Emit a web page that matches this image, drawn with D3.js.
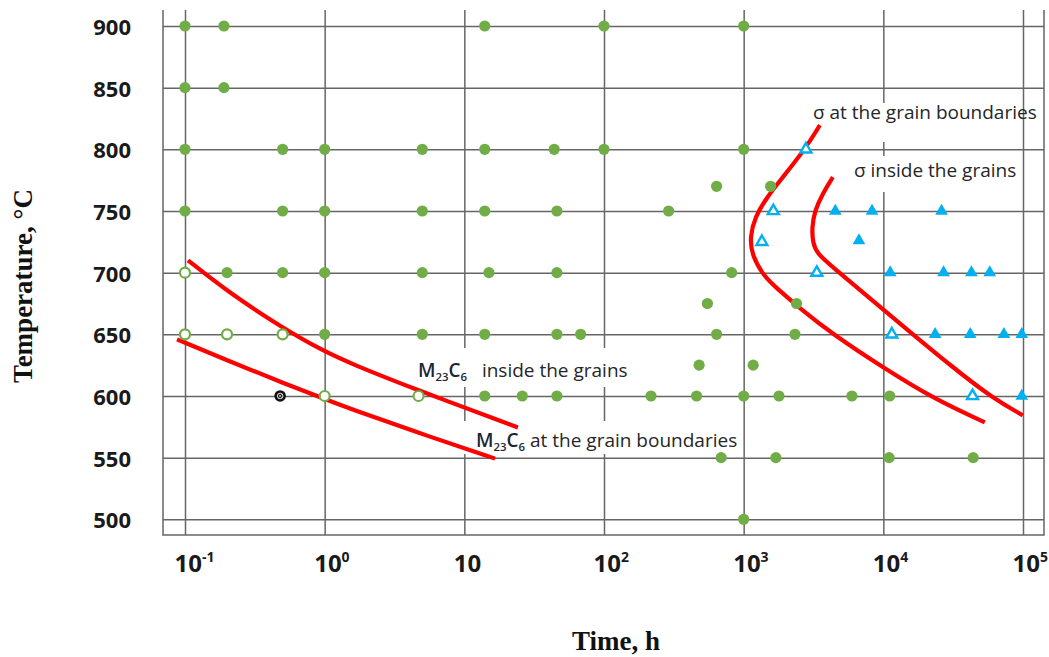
<!DOCTYPE html>
<html>
<head>
<meta charset="utf-8">
<script src="https://cdn.jsdelivr.net/npm/d3@7/dist/d3.min.js"></script>
<style>
  html, body { margin: 0; padding: 0; background: #fff; }
  svg { display: block; }
</style>
</head>
<body>
<svg id="chart" width="1049" height="657"></svg>
<script>
// ---------------- DATA ----------------
const xTickValues = [0.1, 1, 10, 100, 1000, 10000, 100000];
const xTickExps   = ["-1", "0", "", "2", "3", "4", "5"];
const yTickValues = [500, 550, 600, 650, 700, 750, 800, 850, 900];

// [time h, temperature °C]
const greenFilled = [
  [0.1,900],[0.19,900],[14,900],[100,900],[1000,900],
  [0.1,850],[0.19,850],
  [0.1,800],[0.5,800],[1,800],[5,800],[14,800],[44,800],[100,800],[1000,800],
  [640,770],[1560,770],
  [0.1,750],[0.5,750],[1,750],[5,750],[14,750],[46,750],[290,750],
  [0.2,700],[0.5,700],[1,700],[5,700],[15,700],[46,700],[820,700],
  [550,675],[2390,675],
  [1,650],[5,650],[14,650],[46,650],[68,650],[640,650],[2330,650],
  [480,625],[1170,625],
  [14,600],[26,600],[46,600],[217,600],[460,600],[1000,600],[1790,600],[5960,600],[11100,600],
  [690,550],[1700,550],[11000,550],[44000,550],
  [1000,500]
];
const greenOpen = [[0.1,700],[0.1,650],[0.2,650],[0.5,650],[1,600],[4.7,600]];
const blackMarked = [[0.48,600]];
const blueOpen = [[2790,800],[1630,750],[1350,725],[3340,700],[11500,650],[43500,600]];
const blueFilled = [
  [4530,750],[8300,750],[26100,750],[6690,726],
  [11200,700],[27000,700],[42700,700],[57800,700],
  [23500,650],[41900,650],[73000,650],[98000,650],
  [98000,600]
];

const curveM23Inside = [[0.105,710],[0.2,684.9],[0.503,654.9],[0.99,636.2],[1.52,626.5],[4.66,604.5],[24.2,574.5]];
const curveM23Boundary = [[0.0877,645.9],[0.221,626.9],[0.503,610.6],[0.989,597.7],[1.52,589.6],[4.58,570.5],[16.6,549.2]];
const curveSigmaBoundary = [[3512,819.6],[2786,801],[1909,777.4],[1466,761.2],[1203,745],[1108,728.7],[1145,714.1],
  [1395,697.1],[1729,687.3],[2525,671.1],[4350,650],[9918,623.2],[22620,598.1],[53270,578.6]];
const curveSigmaInside = [[4350,777.4],[3689,764.4],[3234,750.6],[3077,736.8],[3129,723.9],[3342,715.7],[4350,704.4],
  [8007,679.2],[16260,650],[31450,623.2],[60800,598.1],[99700,584.3]];

// ---------------- LAYOUT ----------------
const svg = d3.select("#chart");
const frame = { left: 163, right: 1044, top: 10, bottom: 535 };
const x = d3.scaleLog().domain([0.1, 100000]).range([185, 1023]);
const y = d3.scaleLinear().domain([500, 900]).range([519.3, 26]);

const gridColor = "#666666";

// Gridlines via axes
const gx = svg.append("g")
  .attr("transform", `translate(0,${frame.bottom})`)
  .call(d3.axisBottom(x).tickValues(xTickValues).tickSize(-(frame.bottom - frame.top)).tickFormat(""));
gx.select(".domain").remove();
gx.selectAll("line").attr("stroke", gridColor).attr("stroke-width", 1.5);

const gy = svg.append("g")
  .attr("transform", `translate(${frame.left},0)`)
  .call(d3.axisLeft(y).tickValues(yTickValues).tickSize(-(frame.right - frame.left)).tickFormat(""));
gy.select(".domain").remove();
gy.selectAll("line").attr("stroke", gridColor).attr("stroke-width", 1.5);

// Frame (left, bottom, right)
svg.append("path")
  .attr("d", `M${frame.left},${frame.top}V${frame.bottom}H${frame.right}V${frame.top}`)
  .attr("fill", "none").attr("stroke", gridColor).attr("stroke-width", 1.5);

// White label boxes (hide grid behind annotation text)
const boxes = [
  [811, 103, 1016, 142],
  [851, 156, 1016, 192],
  [413, 348, 645, 387],
  [463, 421, 740, 454]
];
svg.append("g").selectAll("rect").data(boxes).join("rect")
  .attr("x", d => d[0]).attr("y", d => d[1])
  .attr("width", d => d[2] - d[0]).attr("height", d => d[3] - d[1])
  .attr("fill", "#fff");

// Axis tick labels
const yl = svg.append("g")
  .attr("transform", `translate(${frame.left},0)`)
  .call(d3.axisLeft(y).tickValues(yTickValues).tickSize(0).tickPadding(32));
yl.select(".domain").remove();
yl.selectAll("text")
  .attr("font-family", "'Open Sans', sans-serif")
  .attr("font-weight", "bold").attr("font-size", 22).attr("fill", "#1a1a1a")
  .attr("dy", "0.38em");

const xl = svg.append("g")
  .attr("transform", `translate(0,${frame.bottom})`)
  .call(d3.axisBottom(x).tickValues(xTickValues).tickSize(0).tickPadding(20).tickFormat(""));
xl.select(".domain").remove();
xl.selectAll("text").each(function(d, i) {
  const t = d3.select(this)
    .attr("text-anchor", "start").attr("x", -11)
    .attr("font-family", "'Open Sans', sans-serif")
    .attr("font-weight", "bold").attr("font-size", 24).attr("fill", "#1a1a1a");
  t.text(null);
  t.append("tspan").text("10");
  if (xTickExps[i]) t.append("tspan").attr("font-size", 14).attr("dy", -10).text(xTickExps[i]);
});

// Axis titles
svg.append("text")
  .attr("x", 616).attr("y", 650).attr("text-anchor", "middle")
  .attr("font-family", "'Liberation Serif', 'Times New Roman', serif")
  .attr("font-weight", "bold").attr("font-size", 27).attr("fill", "#111")
  .text("Time, h");
svg.append("text")
  .attr("transform", "translate(32,286) rotate(-90)").attr("text-anchor", "middle")
  .attr("font-family", "'Liberation Serif', 'Times New Roman', serif")
  .attr("font-weight", "bold").attr("font-size", 27).attr("fill", "#111")
  .text("Temperature, °C");

// Curves
const lineGen = d3.line().x(d => x(d[0])).y(d => y(d[1])).curve(d3.curveBasis);
[curveM23Inside, curveM23Boundary, curveSigmaBoundary, curveSigmaInside].forEach(c => {
  svg.append("path").attr("d", lineGen(c))
    .attr("fill", "none").attr("stroke", "#ff0000").attr("stroke-width", 4.2)
    .attr("stroke-linecap", "butt");
});

// Markers
const green = "#70ad47", blue = "#00b0f0";
svg.append("g").selectAll("circle").data(greenFilled).join("circle")
  .attr("cx", d => x(d[0])).attr("cy", d => y(d[1])).attr("r", 5.6).attr("fill", green);
svg.append("g").selectAll("circle").data(greenOpen).join("circle")
  .attr("cx", d => x(d[0])).attr("cy", d => y(d[1])).attr("r", 5).attr("fill", "#fff")
  .attr("stroke", green).attr("stroke-width", 2.2);
const bm = svg.append("g").selectAll("g").data(blackMarked).join("g")
  .attr("transform", d => `translate(${x(d[0])},${y(d[1])})`);
bm.append("circle").attr("r", 5.8).attr("fill", "#111");
bm.append("circle").attr("r", 2.8).attr("fill", "none").attr("stroke", "#ddd").attr("stroke-width", 1);
bm.append("path").attr("d", "M-1.6,-1.6L1.6,1.6M-1.6,1.6L1.6,-1.6").attr("stroke", "#ddd").attr("stroke-width", 0.8);

const triFilled = d3.symbol().type(d3.symbolTriangle).size(70);
const triOpen = d3.symbol().type(d3.symbolTriangle).size(52);
svg.append("g").selectAll("path").data(blueFilled).join("path")
  .attr("transform", d => `translate(${x(d[0])},${y(d[1])})`)
  .attr("d", triFilled).attr("fill", blue);
svg.append("g").selectAll("path").data(blueOpen).join("path")
  .attr("transform", d => `translate(${x(d[0])},${y(d[1])})`)
  .attr("d", triOpen).attr("fill", "#fff").attr("stroke", blue).attr("stroke-width", 2.4);

// Annotations
const annFont = "'Open Sans', sans-serif";
const annColor = "#262626";
function ann(xp, yp, parts, size) {
  const t = svg.append("text").attr("x", xp).attr("y", yp)
    .attr("font-family", annFont).attr("font-size", size).attr("fill", annColor);
  parts.forEach(p => {
    const s = t.append("tspan").text(p.t);
    if (p.sub) s.attr("font-size", size * 0.6).attr("dy", 4);
    if (p.up) s.attr("dy", -4);
    if (p.b) s.attr("font-weight", 600).attr("fill", "#1c2535");
  });
  return t;
}
ann(813, 119, [{t: "σ at the grain boundaries"}], 19);
ann(854, 177, [{t: "σ inside the grains"}], 19);
ann(418, 377, [{t: "M", b: true}, {t: "23", sub: true, b: true}, {t: "C", up: true, b: true}, {t: "6", sub: true, b: true},
               {t: "\u00a0\u00a0 inside the grains", up: true}], 19);
ann(476, 447, [{t: "M", b: true}, {t: "23", sub: true, b: true}, {t: "C", up: true, b: true}, {t: "6", sub: true, b: true},
               {t: " at the grain boundaries", up: true}], 19);
</script>
</body>
</html>
